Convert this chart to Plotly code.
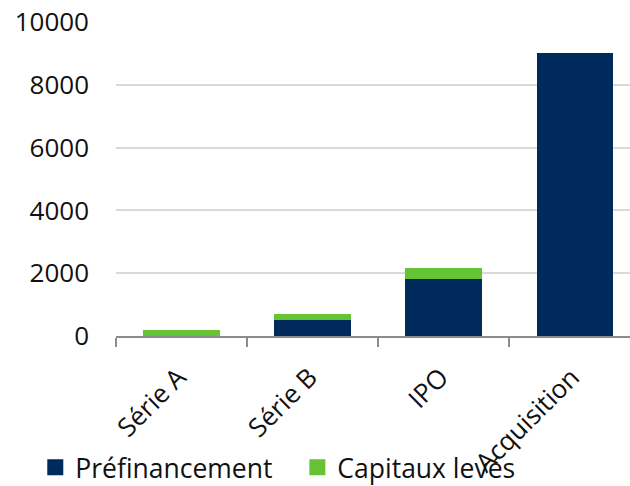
import plotly.graph_objects as go

categories = ["Série A", "Série B", "IPO", "Acquisition"]
prefinancement = [0, 500, 1800, 9000]
capitaux_leves = [200, 200, 350, 0]
y_ticks = [0, 2000, 4000, 6000, 8000, 10000]
series_names = ["Préfinancement", "Capitaux levés"]

NAVY = "#00295C"
GREEN = "#64C433"
FONT = "Open Sans"
FS = 26

fig = go.Figure()
fig.add_trace(go.Bar(x=categories, y=prefinancement, name=series_names[0],
                     marker=dict(color=NAVY, line=dict(width=0)), showlegend=False))
fig.add_trace(go.Bar(x=categories, y=capitaux_leves, name=series_names[1],
                     marker=dict(color=GREEN, line=dict(width=0)), showlegend=False))
# legend entries with larger square keys, each in its own legend box
for nm, col, lg in zip(series_names, [NAVY, GREEN], ["legend", "legend2"]):
    fig.add_trace(go.Scatter(x=[None], y=[None], mode="markers", name=nm, legend=lg,
                             marker=dict(symbol="square", size=17, color=col)))

legend_common = dict(orientation="h", xref="container", yref="container",
                     xanchor="left", y=0.038, yanchor="middle",
                     font=dict(size=FS + 0.5), itemwidth=30, bgcolor="rgba(0,0,0,0)",
                     borderwidth=0)

fig.update_layout(
    barmode="stack",
    bargap=0.414,
    width=630, height=486,
    margin=dict(l=116, r=0, t=22, b=150, autoexpand=False),
    paper_bgcolor="white", plot_bgcolor="white",
    font=dict(family=FONT, size=FS, color="#111111"),
    legend=dict(x=0.056, **legend_common),
    legend2=dict(x=0.472, **legend_common),
    showlegend=True,
)
fig.update_xaxes(
    type="category",
    range=[-0.5, 3.42],
    tickangle=-45,
    automargin=False,
    showline=True, linecolor="#8C8C8C", linewidth=1.5,
    ticks="outside", tickson="boundaries", ticklen=9, tickcolor="#8C8C8C", tickwidth=1.5,
    showgrid=False,
    ticklabelstandoff=14, ticklabelshift=-3,
    tickfont=dict(size=FS),
)
fig.update_yaxes(
    range=[0, 10000],
    automargin=False,
    tickvals=y_ticks,
    ticktext=[str(v) for v in y_ticks],
    showgrid=True, gridcolor="#D9D9D9", gridwidth=1.5,
    zeroline=False, showline=False,
    ticks="", ticklabelstandoff=26,
    tickfont=dict(size=FS),
)

fig.write_html("out.html", config={"displayModeBar": False},
               post_script="document.body.style.margin='0';document.body.style.overflow='hidden';")
